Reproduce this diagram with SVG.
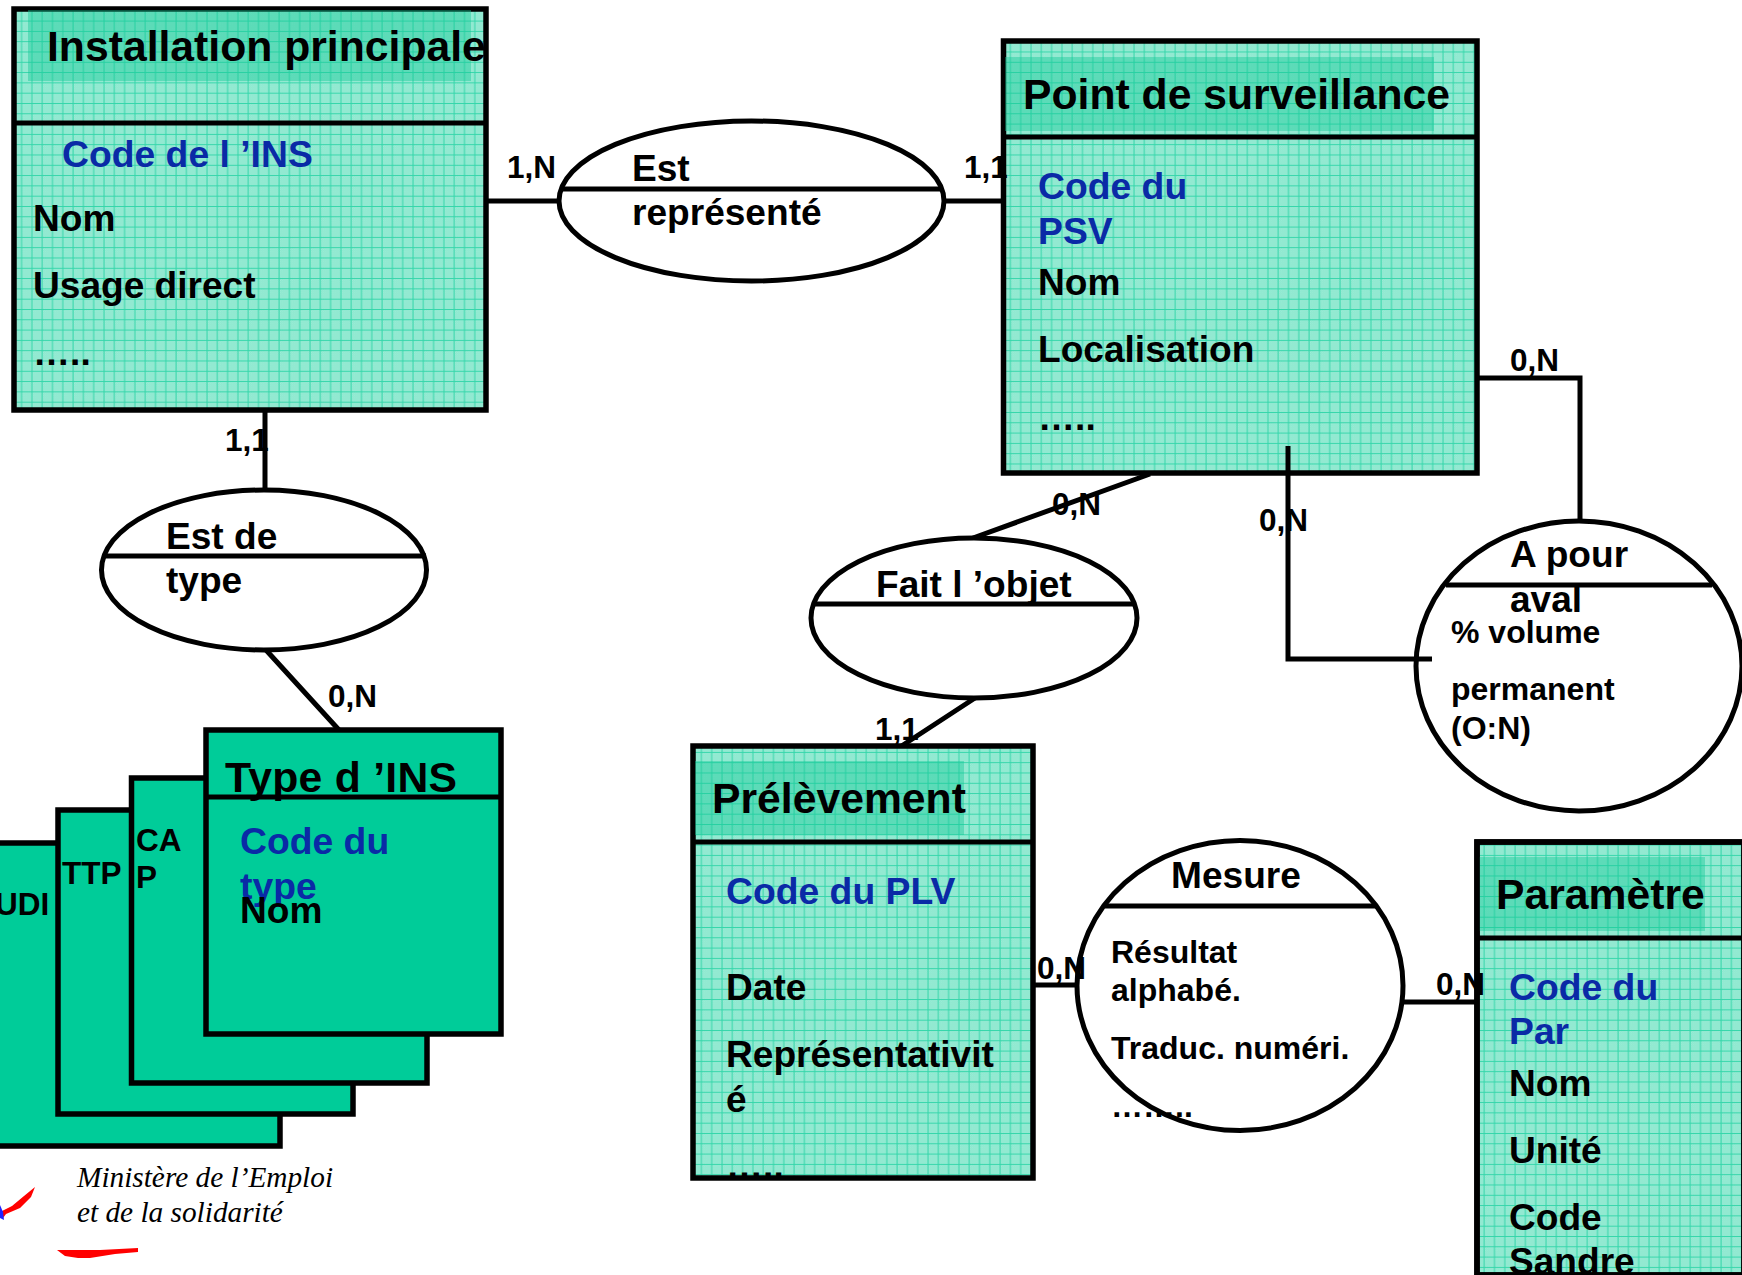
<svg xmlns="http://www.w3.org/2000/svg" width="1742" height="1275" viewBox="0 0 1742 1275">
<style>
text{font-family:"Liberation Sans",Arial,sans-serif;font-weight:700;fill:#000}
.t{font-size:42.7px}.a{font-size:37.1px}.k{fill:#0a2aa6;font-size:37.3px}.s{font-size:32px}.c{font-size:31.5px}
.b{fill:url(#g);stroke:#000;stroke-width:5.500}
.n{fill:none;stroke:#000;stroke-width:5.500}
.f{fill:#00cc99;stroke:#000;stroke-width:5.500}
.h{fill:#14c897;opacity:.42}
.l{stroke:#000;stroke-width:5;fill:none}
.e{fill:#fff;stroke:#000;stroke-width:5}
.m{font-family:"Liberation Serif",serif;font-style:italic;font-weight:400;font-size:29.300px}
</style>
<defs>
<pattern id="d" width="2" height="2" patternUnits="userSpaceOnUse">
<rect width="2" height="2" fill="#85e7cc"/><path d="M0 0h1v1H0zM1 1h1v1H1z" fill="#a0ecd7"/>
</pattern>
<pattern id="g" width="10.3" height="10.3" patternUnits="userSpaceOnUse">
<rect width="10.3" height="10.3" fill="url(#d)"/>
<path d="M0 .5H10.3M1 0V10.3" stroke="#34d6aa" stroke-width="1"/>
</pattern>
</defs>
<rect width="1742" height="1275" fill="#fff"/>
<g id="connectors">
<path class="l" d="M486 201H560M942 201H1004M265 410V490M266 650L339 730M1476 378H1580V524M1288 446V659H1417M1150 474L973 538M975 698L900 747M1033 985H1080M1400 1002H1480"/>
</g>
<g id="logo">
<path fill="#f00" d="M0 1212L12 1206 24 1196 35 1187 31 1197 20 1208 6 1214 3 1218 0 1216Z"/>
<path fill="#22f" d="M0 1205L3 1212 4 1220 0 1218Z"/>
<path fill="#f00" d="M57 1250L100 1250 138 1248V1252L115 1254 90 1258H78L65 1256Z"/>
<text class="m" x="77" y="1187">Ministère de l’Emploi</text>
<text class="m" x="77" y="1222">et de la solidarité</text>
</g>
<g id="udi"><rect class="f" x="-20" y="843" width="300" height="303"/><text class="c" x="-5" y="915">UDI</text></g>
<g id="ttp"><rect class="f" x="58" y="810" width="295" height="304"/><text class="c" x="62" y="884">TTP</text></g>
<g id="cap"><rect class="f" x="131.500" y="778" width="295.500" height="305"/><text class="c" x="136" y="851">CA</text><text class="c" x="136" y="888">P</text></g>
<g id="type-ins"><rect class="f" x="206" y="730" width="295" height="304"/><path class="l" d="M206 797H501"/><text class="t" x="225" y="792" textLength="232">Type d ’INS</text><text class="k" x="240" y="854">Code du</text><text class="k" x="240" y="899">type</text><text class="a" x="240" y="923">Nom</text></g>
<g id="installation"><rect class="b" x="14" y="9" width="472" height="401"/><rect class="h" x="28" y="10" width="443" height="71"/><path class="l" d="M14 123H486"/><text class="t" x="47" y="61">Installation principale</text><text class="k" x="62" y="167">Code de l ’INS</text><text class="a" x="33" y="231">Nom</text><text class="a" x="33" y="298">Usage direct</text><text class="a" x="33" y="365">…..</text></g>
<g id="point"><rect class="b" x="1003.500" y="41" width="473.500" height="432"/><rect class="h" x="1005" y="57" width="429" height="74"/><path class="l" d="M1003 137H1477"/><text class="t" x="1023" y="109">Point de surveillance</text><text class="k" x="1038" y="199">Code du</text><text class="k" x="1038" y="244">PSV</text><text class="a" x="1038" y="295">Nom</text><text class="a" x="1038" y="362">Localisation</text><text class="a" x="1038" y="430">…..</text></g>
<path class="l" d="M1288 446V474"/>
<g id="prelevement"><rect class="b" x="693" y="746" width="340" height="432"/><rect class="h" x="695" y="761" width="269" height="74"/><path class="l" d="M693 842H1033"/><text class="t" x="712" y="813">Prélèvement</text><text class="k" x="726" y="904">Code du PLV</text><text class="a" x="726" y="1000">Date</text><text class="a" x="726" y="1067">Représentativit</text><text class="a" x="726" y="1112">é</text><text class="a" x="726" y="1178">…..</text></g>
<g id="parametre"><rect class="b" x="1477" y="842" width="267" height="433"/><rect class="h" x="1479" y="857" width="226" height="74"/><path class="l" d="M1477 938H1742"/><text class="t" x="1496" y="909">Paramètre</text><text class="k" x="1509" y="1000">Code du</text><text class="k" x="1509" y="1044">Par</text><text class="a" x="1509" y="1096">Nom</text><text class="a" x="1509" y="1163">Unité</text><text class="a" x="1509" y="1230">Code</text><text class="a" x="1509" y="1274">Sandre</text><rect class="n" x="1477" y="842" width="267" height="433"/></g>
<g id="est-represente"><ellipse class="e" cx="751.500" cy="201" rx="192.500" ry="80"/><path class="l" d="M561 189H941"/><text class="a" x="632" y="181">Est</text><text class="a" x="632" y="225">représenté</text></g>
<g id="est-de-type"><ellipse class="e" cx="264" cy="570" rx="162.500" ry="80"/><path class="l" d="M103 556H426"/><text class="a" x="166" y="549">Est de</text><text class="a" x="166" y="593">type</text></g>
<g id="fait-objet"><ellipse class="e" cx="974" cy="618" rx="163" ry="80"/><path class="l" d="M812 604H1136"/><text class="a" x="876" y="597">Fait l ’objet</text></g>
<g id="a-pour-aval"><ellipse class="e" cx="1579" cy="666" rx="163" ry="145"/><path class="l" d="M1446 585H1712M1417 659H1432"/><text class="a" x="1510" y="567">A pour</text><text class="a" x="1510" y="612">aval</text><text class="s" x="1451" y="643">% volume</text><text class="s" x="1451" y="700">permanent</text><text class="s" x="1451" y="739">(O:N)</text></g>
<g id="mesure"><ellipse class="e" cx="1240" cy="985.500" rx="163" ry="145"/><path class="l" d="M1105 906H1377"/><text class="a" x="1171" y="888">Mesure</text><text class="s" x="1111" y="963">Résultat</text><text class="s" x="1111" y="1001">alphabé.</text><text class="s" x="1111" y="1059">Traduc. numéri.</text><text class="s" x="1111" y="1117">……..</text></g>
<g id="cardinalities">
<text class="c" x="507" y="178">1,N</text><text class="c" x="964" y="178">1,1</text><text class="c" x="225" y="451">1,1</text><text class="c" x="328" y="707">0,N</text>
<text class="c" x="1510" y="371">0,N</text><text class="c" x="1052" y="515">0,N</text><text class="c" x="1259" y="531">0,N</text><text class="c" x="875" y="740">1,1</text><text class="c" x="1037" y="979">0,N</text><text class="c" x="1436" y="995">0,N</text>
</g>
</svg>
